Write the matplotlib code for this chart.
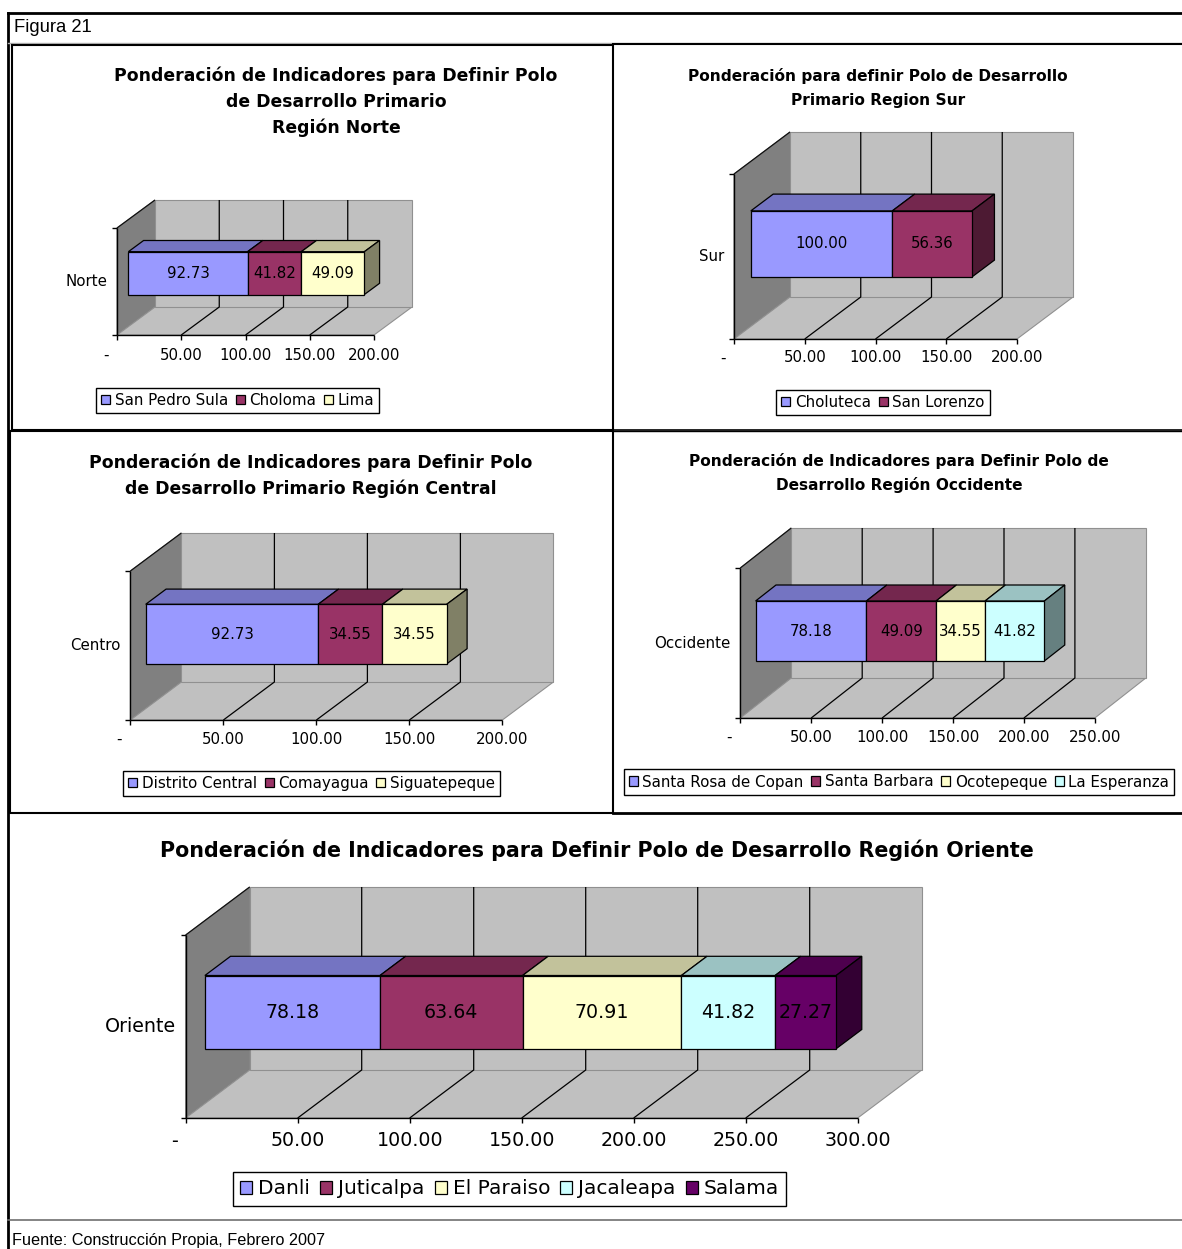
import matplotlib
matplotlib.use('Agg')
import matplotlib.pyplot as plt
from matplotlib.patches import Polygon, Patch
from matplotlib.lines import Line2D
from matplotlib.colors import to_rgb

# ---------------- data ----------------
norte_series = ['San Pedro Sula', 'Choloma', 'Lima']
norte_values = [92.73, 41.82, 49.09]
norte_ticks = [0, 50, 100, 150, 200]

sur_series = ['Choluteca', 'San Lorenzo']
sur_values = [100.00, 56.36]
sur_ticks = [0, 50, 100, 150, 200]

centro_series = ['Distrito Central', 'Comayagua', 'Siguatepeque']
centro_values = [92.73, 34.55, 34.55]
centro_ticks = [0, 50, 100, 150, 200]

occ_series = ['Santa Rosa de Copan', 'Santa Barbara', 'Ocotepeque', 'La Esperanza']
occ_values = [78.18, 49.09, 34.55, 41.82]
occ_ticks = [0, 50, 100, 150, 200, 250]

ori_series = ['Danli', 'Juticalpa', 'El Paraiso', 'Jacaleapa', 'Salama']
ori_values = [78.18, 63.64, 70.91, 41.82, 27.27]
ori_ticks = [0, 50, 100, 150, 200, 250, 300]

norte_title = ['Ponderación de Indicadores para Definir Polo', 'de Desarrollo Primario', 'Región Norte']
sur_title = ['Ponderación para definir Polo de Desarrollo', 'Primario Region Sur']
centro_title = ['Ponderación de Indicadores para Definir Polo', 'de Desarrollo Primario Región Central']
occ_title = ['Ponderación de Indicadores para Definir Polo de', 'Desarrollo Región Occidente']
ori_title = ['Ponderación de Indicadores para Definir Polo de Desarrollo Región Oriente']

palette = ['#9999FF', '#993366', '#FFFFCC', '#CCFFFF', '#660066']

# ---------------- figure ----------------
W, H = 1182, 1249
fig = plt.figure(figsize=(W / 100, H / 100), dpi=100)
fig.patch.set_facecolor('white')
FONT = 'DejaVu Sans'


def fx(x):
    return x / W


def fy(y):
    return 1 - y / H


def fline(xs, ys, color='black', lw=1.0):
    fig.add_artist(Line2D([fx(x) for x in xs], [fy(y) for y in ys],
                          transform=fig.transFigure, color=color, lw=lw))


def shade(c, f):
    r, g, b = to_rgb(c)
    return (r * f, g * f, b * f)


def tick_label(t):
    return '-' if t == 0 else f'{t:.2f}'


def chart(geo, values, names, ticks, category, title, title_pos, title_size,
          fs, legfs, leg_center, lab_off):
    x0, y0, wpx, hpx, ddx, ddy = geo
    vmax = ticks[-1]
    s = wpx / vmax
    DX = ddx / s
    DY = ddy / hpx
    ax = fig.add_axes([fx(x0), fy(y0), (wpx + ddx) / W, (hpx + ddy) / H])
    ax.set_xlim(0, vmax + DX)
    ax.set_ylim(0, 1 + DY)
    ax.axis('off')

    def P(v, y, d):
        return (v + d * DX, y + d * DY)

    def poly(pts, fc, ec, lw=0.8, z=1):
        ax.add_patch(Polygon(pts, closed=True, facecolor=fc, edgecolor=ec,
                             lw=lw, zorder=z, clip_on=False))

    def line(pts, color='black', lw=0.9, z=2):
        ax.plot([p[0] for p in pts], [p[1] for p in pts], color=color, lw=lw,
                zorder=z, clip_on=False, solid_capstyle='butt')

    # walls
    poly([P(0, 0, 0), P(0, 0, 1), P(0, 1, 1), P(0, 1, 0)], '#808080', '#808080')
    poly([P(0, 0, 0), P(vmax, 0, 0), P(vmax, 0, 1), P(0, 0, 1)], '#C0C0C0', '#909090')
    poly([P(0, 0, 1), P(vmax, 0, 1), P(vmax, 1, 1), P(0, 1, 1)], '#C0C0C0', '#909090')
    # gridlines
    for t in ticks[1:-1]:
        line([P(t, 0, 0), P(t, 0, 1), P(t, 1, 1)])
    line([P(0, 1, 0), P(0, 1, 1)], color='#101010', lw=0.9)
    # axes
    line([P(0, 0, 0), P(vmax, 0, 0)], lw=1.0, z=3)
    line([P(0, 0, 0), P(0, 1, 0)], lw=1.0, z=3)
    tk = 5
    for t in ticks:
        line([P(t, 0, 0), P(t, -tk / hpx, 0)], lw=1.0, z=3)
        ax.text(t - (11 / s if t == 0 else 0), -lab_off / hpx, tick_label(t),
                ha='center', va='center', fontsize=fs, family=FONT)
    for yy in (0, 1):
        line([P(0, yy, 0), P(-tk / s, yy, 0)], lw=1.0, z=3)
    ax.text(-10 / s, 0.5, category, ha='right', va='center', fontsize=fs, family=FONT)

    # bars
    d0, d1 = 0.3, 0.7
    b0, b1 = 0.3, 0.7
    cum = 0.0
    n = len(values)
    for i, v in enumerate(values):
        c = palette[i]
        a, b = cum, cum + v
        poly([P(a, b1, d0), P(b, b1, d0), P(b, b1, d1), P(a, b1, d1)], shade(c, 0.76), 'black', 0.9, 5)
        poly([P(a, b0, d0), P(b, b0, d0), P(b, b1, d0), P(a, b1, d0)], c, 'black', 0.9, 6)
        if i == n - 1:
            poly([P(b, b0, d0), P(b, b0, d1), P(b, b1, d1), P(b, b1, d0)], shade(c, 0.5), 'black', 0.9, 5)
        cx, cy = P((a + b) / 2, (b0 + b1) / 2, d0)
        ax.text(cx, cy, f'{v:.2f}', ha='center', va='center', fontsize=fs,
                family=FONT, zorder=8)
        cum = b

    # title
    tx, ty, tsp = title_pos
    for k, tl in enumerate(title):
        fig.text(fx(tx), fy(ty + k * tsp), tl, ha='center', va='center',
                 fontsize=title_size, fontweight='bold', family=FONT)

    # legend
    handles = [Patch(facecolor=palette[i], edgecolor='black', lw=0.9) for i in range(n)]
    leg = fig.legend(handles, names, loc='center', bbox_to_anchor=(fx(leg_center[0]), fy(leg_center[1])),
                     bbox_transform=fig.transFigure, ncol=n,
                     prop={'family': FONT, 'size': legfs},
                     handlelength=0.6, handleheight=0.6, handletextpad=0.3,
                     columnspacing=0.5, borderpad=0.35, borderaxespad=0,
                     fancybox=False, frameon=True, edgecolor='black', framealpha=1)
    leg.get_frame().set_linewidth(1.0)


# ---------------- frame ----------------
fline([8, 1182], [13, 13], lw=2.0)
fline([8, 8], [13, 1249], lw=2.0)
fline([8, 1182], [43, 43], color='#B0B0B0', lw=1.0)
# panel boxes
fline([12, 613, 613, 12, 12], [45, 45, 430, 430, 45], lw=1.5)
fline([613, 1182], [44, 44], lw=1.5)
fline([613, 1182], [430, 430], lw=1.2)
fline([10, 613, 613, 10, 10], [431, 431, 813, 813, 431], lw=1.5)
fline([613, 1182], [431, 431], lw=1.0)
fline([613, 1182], [813, 813], lw=2.0)
fline([8, 1182], [1220, 1220], color='#707070', lw=1.2)

fig.text(fx(14), fy(28), 'Figura 21', ha='left', va='center', fontsize=13.3,
         family='Liberation Sans')
fig.text(fx(12), fy(1241), 'Fuente: Construcción Propia, Febrero 2007', ha='left',
         va='center', fontsize=11.7, family='Liberation Sans')

# ---------------- charts ----------------
chart((117, 335, 257, 107, 38, 28), norte_values, norte_series, norte_ticks, 'Norte',
      norte_title, (336, 76, 26), 12.45, 10.8, 10.9, (237.5, 400.5), 20)
chart((734, 339, 283, 165, 56, 42), sur_values, sur_series, sur_ticks, 'Sur',
      sur_title, (878, 76, 24), 11.05, 10.8, 10.9, (883, 402.5), 19)
chart((130.4, 720, 372, 149, 51, 38), centro_values, centro_series, centro_ticks, 'Centro',
      centro_title, (311, 463, 26), 12.45, 10.8, 10.9, (311.5, 783.5), 19)
chart((740.3, 718, 354.5, 150, 51, 40), occ_values, occ_series, occ_ticks, 'Occidente',
      occ_title, (899, 461, 24), 11.05, 10.8, 10.9, (899, 782), 19)
chart((185.7, 1118, 672, 183, 64, 48), ori_values, ori_series, ori_ticks, 'Oriente',
      ori_title, (597, 850, 0), 14.85, 13.7, 14.5, (509.5, 1189), 23)

fig.savefig('out.png', dpi=100, facecolor='white')
